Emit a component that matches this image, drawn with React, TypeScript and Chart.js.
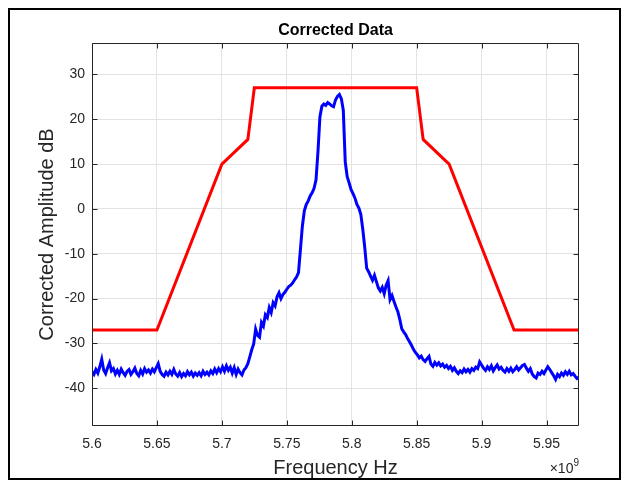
import React, { useEffect, useRef } from 'react';
import { Chart, registerables } from 'chart.js';

Chart.register(...registerables);

const TITLE = 'Corrected Data';
const X_LABEL = 'Frequency Hz';
const Y_LABEL = 'Corrected Amplitude dB';
const X_EXP_BASE = '\u00d710';
const X_EXP_POWER = '9';

const X_TICKS = [5.6, 5.65, 5.7, 5.75, 5.8, 5.85, 5.9, 5.95];
const Y_TICKS = [-40, -30, -20, -10, 0, 10, 20, 30];
const X_MIN = 5.6;
const X_MAX = 5.975;
const Y_MIN = -48.4;
const Y_MAX = 37;

// Spectral mask (red), frequency in units of 1e9 Hz
const MASK_FREQ = [5.6, 5.65, 5.7, 5.72, 5.725, 5.85, 5.855, 5.875, 5.925, 5.975];
const MASK_DB = [-27, -27, 10, 15.5, 27, 27, 15.5, 10, -27, -27];

// Measured spectrum (blue), sampled every SPECTRUM_STEP (x1e9 Hz) from SPECTRUM_START
const SPECTRUM_START = 5.6;
const SPECTRUM_STEP = 0.0015;
const SPECTRUM_DB = [
  -36.3, -36.9, -35.8, -36.6, -35.2, -33.5, -35.9, -36.7, -35.4, -34.3,
  -36.1, -35.6, -36.8, -36.0, -36.9, -35.7, -36.5, -37.1, -36.2, -35.8,
  -36.9, -36.3, -35.5, -36.7, -37.2, -36.0, -36.8, -35.6, -36.4, -35.9,
  -36.6, -35.7, -36.3, -35.4, -34.5, -36.2, -36.9, -37.3, -36.4, -37.0,
  -36.2, -36.9, -35.8, -36.8, -37.3, -36.5, -37.4, -36.7, -37.2, -36.3,
  -37.0, -36.4, -37.3, -36.6, -37.1, -36.5, -37.2, -36.2, -36.9, -36.4,
  -37.0, -36.1, -36.7, -35.7, -36.5, -35.6, -36.3, -35.2, -36.2, -35.0,
  -36.0, -35.3, -36.6, -35.4, -36.9, -35.7, -36.5, -37.0, -35.9, -35.4,
  -34.5, -33.0, -31.4, -30.1, -26.8, -28.2, -28.6, -25.3, -26.1, -23.6,
  -24.2, -22.0, -23.1, -20.9, -21.6, -19.6, -18.7, -20.0, -19.1, -18.6,
  -17.9, -17.3, -17.0, -16.5, -15.8, -15.2, -14.2, -9.0, -3.8, -0.4,
  1.0, 1.8, 2.9, 3.6, 4.6, 6.5, 12.8, 20.5, 22.9, 23.4,
  23.1, 23.7, 23.4, 23.0, 22.8, 24.3, 25.1, 25.5, 24.6, 22.0,
  10.5, 7.2, 5.8, 4.3, 3.4, 2.4, 1.0, 0.2, -1.2, -4.5,
  -8.5, -13.2, -14.0, -15.0, -15.9, -14.8, -16.2, -17.6, -18.3, -17.5,
  -18.9, -17.0, -16.0, -20.2, -19.3, -20.6, -21.8, -22.9, -24.6, -26.7,
  -27.4, -28.0, -28.9, -29.6, -30.4, -31.3, -32.0, -32.5, -33.2, -32.8,
  -33.6, -34.0, -33.4, -32.9, -34.6, -35.1, -34.2, -34.8, -34.3, -35.0,
  -34.6, -35.3, -34.9, -35.6, -35.1, -36.0, -35.4, -36.2, -36.7, -36.1,
  -36.5, -35.7, -36.3, -35.8, -36.4, -35.6, -36.0, -35.3, -35.6, -34.1,
  -34.8, -35.5, -36.0, -35.2, -35.8, -35.0, -36.1, -35.4, -34.8, -35.7,
  -35.3, -36.0, -36.4, -35.6, -36.2, -35.5, -36.3, -35.8, -35.2, -35.9,
  -35.4, -34.9, -34.7, -35.5, -36.2, -35.6, -36.8, -37.4, -37.7, -36.6,
  -36.9, -36.2, -36.7, -35.9, -35.2, -35.8, -36.5, -37.2, -38.0, -36.9,
  -37.4, -36.6, -37.1, -36.3, -36.9, -36.2, -37.0, -36.7, -37.3, -37.8,
  -37.5,
];

const FONT = "'Liberation Sans', Arial, Helvetica, sans-serif";
const AXIS_COLOR = '#262626';
const GRID_COLOR = '#e3e3e3';

const CANVAS_W = 609;
const CANVAS_H = 468;

const framePlugin = {
  id: 'matlabFrame',
  afterDraw(chart: any) {
    const { ctx, chartArea } = chart;
    const xs = chart.scales.x;
    const ys = chart.scales.y;
    const l = Math.round(chartArea.left) + 0.5;
    const r = Math.round(chartArea.right) - 0.5;
    const t = Math.round(chartArea.top) + 0.5;
    const b = Math.round(chartArea.bottom) - 0.5;
    ctx.save();
    ctx.strokeStyle = AXIS_COLOR;
    ctx.lineWidth = 1;
    ctx.beginPath();
    ctx.rect(l, t, r - l, b - t);
    ctx.stroke();
    const tick = 5;
    ctx.beginPath();
    for (const v of X_TICKS) {
      const px = Math.round(xs.getPixelForValue(v)) + 0.5;
      ctx.moveTo(px, b);
      ctx.lineTo(px, b - tick);
      ctx.moveTo(px, t);
      ctx.lineTo(px, t + tick);
    }
    for (const v of Y_TICKS) {
      const py = Math.round(ys.getPixelForValue(v)) + 0.5;
      ctx.moveTo(l, py);
      ctx.lineTo(l + tick, py);
      ctx.moveTo(r, py);
      ctx.lineTo(r - tick, py);
    }
    ctx.stroke();

    // exponent label x10^9
    ctx.fillStyle = AXIS_COLOR;
    ctx.textBaseline = 'alphabetic';
    ctx.textAlign = 'left';
    ctx.font = `10px ${FONT}`;
    const supW = ctx.measureText(X_EXP_POWER).width;
    ctx.font = `14px ${FONT}`;
    const baseW = ctx.measureText(X_EXP_BASE).width;
    const right = chartArea.right;
    const baseY = 463;
    ctx.fillText(X_EXP_BASE, right - supW - baseW, baseY);
    ctx.font = `10px ${FONT}`;
    ctx.fillText(X_EXP_POWER, right - supW, baseY - 7);
    ctx.restore();
  },
};

export default function App() {
  const canvasRef = useRef<HTMLCanvasElement | null>(null);

  useEffect(() => {
    const canvas = canvasRef.current;
    if (!canvas) return;
    const spectrum = SPECTRUM_DB.map((y, i) => ({ x: SPECTRUM_START + SPECTRUM_STEP * i, y }));
    const mask = MASK_FREQ.map((x, i) => ({ x, y: MASK_DB[i] }));

    const chart = new Chart(canvas, {
      type: 'line',
      data: {
        datasets: [
          {
            label: 'Spectrum',
            data: spectrum,
            borderColor: '#0000ff',
            borderWidth: 3,
            pointRadius: 0,
            tension: 0,
            fill: false,
          },
          {
            label: 'Mask',
            data: mask,
            borderColor: '#ff0000',
            borderWidth: 3,
            pointRadius: 0,
            tension: 0,
            fill: false,
          },
        ],
      },
      options: {
        responsive: false,
        animation: false,
        devicePixelRatio: 1,
        layout: { padding: { left: 0, right: 40, top: 0, bottom: 0 } },
        plugins: {
          legend: { display: false },
          tooltip: { enabled: false },
          title: {
            display: true,
            text: TITLE,
            fullSize: false,
            color: '#000000',
            font: { family: FONT, size: 16, weight: 'bold' },
            padding: { top: 11.4, bottom: 2.4 },
          },
        },
        scales: {
          x: {
            type: 'linear',
            min: X_MIN,
            max: X_MAX,
            afterBuildTicks: (scale: any) => {
              scale.ticks = X_TICKS.map((value) => ({ value }));
            },
            afterFit: (scale: any) => {
              scale.height = 52;
            },
            ticks: {
              color: AXIS_COLOR,
              font: { family: FONT, size: 14 },
              padding: 10,
              maxRotation: 0,
              autoSkip: false,
              callback: (v: any) => String(Number(Number(v).toFixed(3))),
            },
            grid: { color: GRID_COLOR, drawTicks: false },
            border: { display: false },
            title: {
              display: true,
              text: X_LABEL,
              color: AXIS_COLOR,
              font: { family: FONT, size: 20 },
              padding: { top: 0, bottom: -2 },
            },
          },
          y: {
            type: 'linear',
            min: Y_MIN,
            max: Y_MAX,
            afterBuildTicks: (scale: any) => {
              scale.ticks = Y_TICKS.map((value) => ({ value }));
            },
            afterFit: (scale: any) => {
              scale.width = 82;
            },
            ticks: {
              color: AXIS_COLOR,
              font: { family: FONT, size: 14 },
              padding: 7,
              autoSkip: false,
              callback: (v: any) => String(v),
            },
            grid: { color: GRID_COLOR, drawTicks: false },
            border: { display: false },
            title: {
              display: true,
              text: Y_LABEL,
              color: AXIS_COLOR,
              font: { family: FONT, size: 20 },
              padding: { top: 25, bottom: 0 },
            },
          },
        },
      },
      plugins: [framePlugin],
    });
    return () => chart.destroy();
  }, []);

  return (
    <div
      style={{
        border: '2px solid #000',
        width: CANVAS_W,
        height: CANVAS_H,
        background: '#fff',
      }}
    >
      <canvas
        ref={canvasRef}
        width={CANVAS_W}
        height={CANVAS_H}
        style={{ display: 'block', width: CANVAS_W, height: CANVAS_H }}
      />
    </div>
  );
}
